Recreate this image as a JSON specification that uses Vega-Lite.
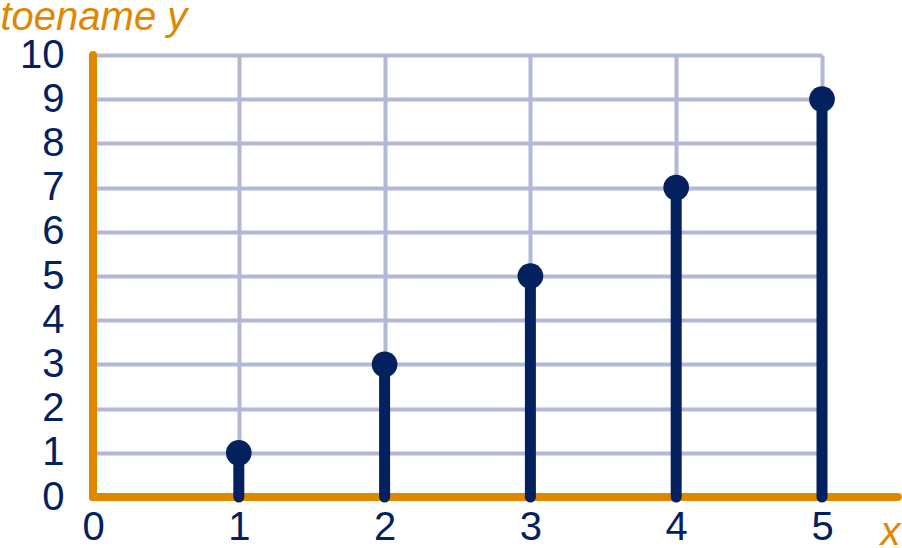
{
  "$schema": "https://vega.github.io/schema/vega-lite/v6.json",
  "width": 729,
  "height": 442,
  "autosize": "none",
  "padding": {"left": 93, "top": 55, "right": 80, "bottom": 51},
  "background": "white",
  "config": {"view": {"stroke": null}, "font": "Liberation Sans"},
  "datasets": {
    "points": [
      {"x": 1, "y": 1},
      {"x": 2, "y": 3},
      {"x": 3, "y": 5},
      {"x": 4, "y": 7},
      {"x": 5, "y": 9}
    ],
    "axes": [
      {"x": 0, "x2": 5.52, "y": 0, "y2": 0},
      {"x": 0, "x2": 0, "y": 0, "y2": 10}
    ]
  },
  "layer": [
    {
      "data": {"name": "axes"},
      "mark": {"type": "rule", "color": "#E08700", "strokeWidth": 8, "strokeCap": "round"},
      "encoding": {
        "x": {
          "field": "x", "type": "quantitative",
          "scale": {"domain": [0, 5], "nice": false, "zero": true},
          "axis": {
            "values": [0, 1, 2, 3, 4, 5], "format": "d",
            "grid": true, "gridColor": "#B3B8D6", "gridWidth": 4,
            "domain": false, "ticks": false, "tickSize": 0,
            "labelFontSize": 40, "labelColor": "#03215F", "labelPadding": 10,
            "labelFlush": false, "labelOverlap": false,
            "title": "x", "titleFontStyle": "italic", "titleFontWeight": "normal",
            "titleColor": "#E08700", "titleFontSize": 40,
            "titleX": 787, "titleY": 47, "titleAlign": "left", "titleBaseline": "alphabetic"
          }
        },
        "x2": {"field": "x2"},
        "y": {
          "field": "y", "type": "quantitative",
          "scale": {"domain": [0, 10], "nice": false, "zero": true},
          "axis": {
            "values": [0, 1, 2, 3, 4, 5, 6, 7, 8, 9, 10], "format": "d",
            "grid": true, "gridColor": "#B3B8D6", "gridWidth": 4,
            "domain": false, "ticks": false, "tickSize": 0,
            "labelFontSize": 40, "labelColor": "#03215F", "labelPadding": 29,
            "labelFlush": false, "labelOverlap": false, "labelBaseline": "middle",
            "title": "toename y", "titleFontStyle": "italic", "titleFontWeight": "normal",
            "titleColor": "#E08700", "titleFontSize": 40, "titleAngle": 0,
            "titleX": -93, "titleY": -26, "titleAlign": "left", "titleBaseline": "alphabetic"
          }
        },
        "y2": {"field": "y2"}
      }
    },
    {
      "data": {"name": "points"},
      "mark": {"type": "rule", "color": "#03215F", "strokeWidth": 11, "strokeCap": "round"},
      "encoding": {
        "x": {"field": "x", "type": "quantitative"},
        "y": {"field": "y", "type": "quantitative"},
        "y2": {"datum": 0}
      }
    },
    {
      "data": {"name": "points"},
      "mark": {"type": "point", "filled": true, "shape": "circle", "size": 660, "opacity": 1, "color": "#03215F"},
      "encoding": {
        "x": {"field": "x", "type": "quantitative"},
        "y": {"field": "y", "type": "quantitative"}
      }
    }
  ]
}
